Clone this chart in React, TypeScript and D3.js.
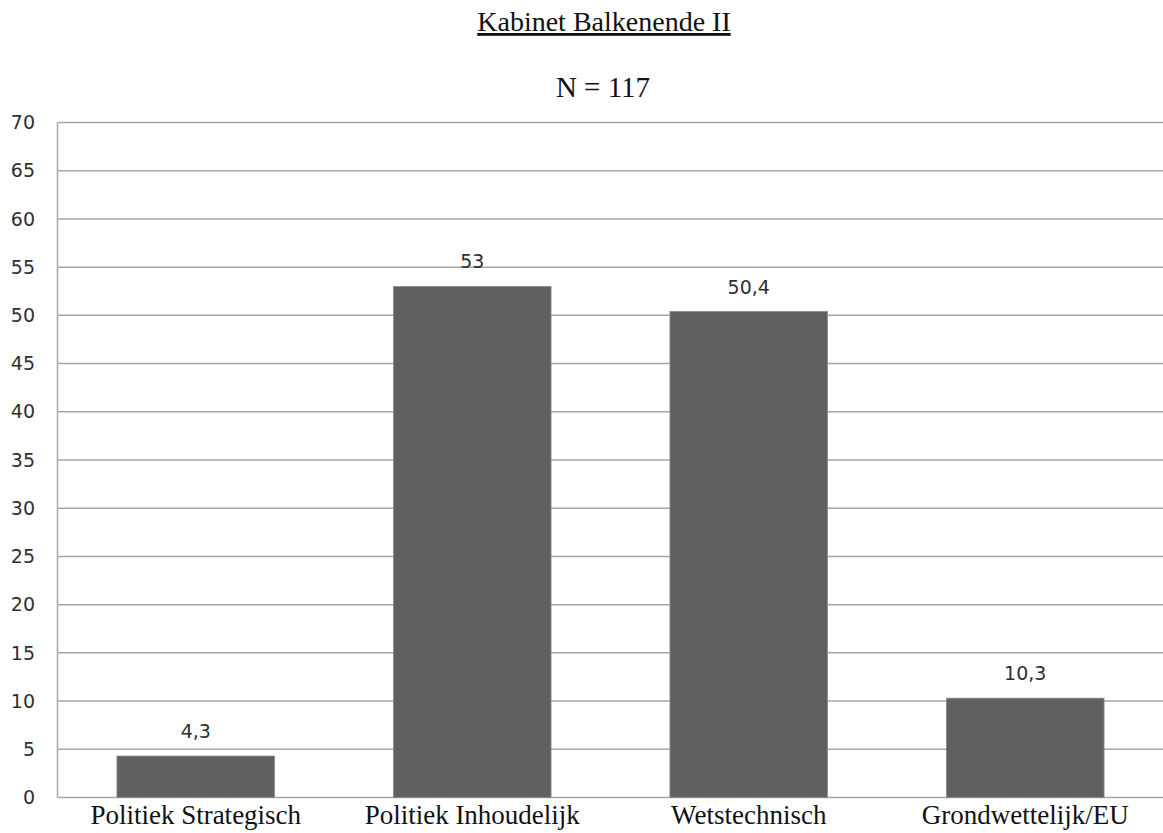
import React from "react";
import * as d3 from "d3";

const categories = ["Politiek Strategisch", "Politiek Inhoudelijk", "Wetstechnisch", "Grondwettelijk/EU"];
const values = [4.3, 53, 50.4, 10.3];
const valueLabels = ["4,3", "53", "50,4", "10,3"];
const yTicks = [0, 5, 10, 15, 20, 25, 30, 35, 40, 45, 50, 55, 60, 65, 70];
const title = "Kabinet Balkenende II";
const subtitle = "N = 117";

const W = 1163;
const H = 833;
const left = 57.5;
const right = 1163.5;
const top = 122.5;
const bottom = 797.5;

export default function App() {
  const x = d3.scaleBand<string>().domain(categories).range([left, right]).paddingInner(0.43).paddingOuter(0.215);
  const y = d3.scaleLinear().domain([0, 70]).range([bottom, top]);
  const serif = "'Liberation Serif', 'Times New Roman', serif";
  const sans = "'DejaVu Sans', Verdana, sans-serif";
  return (
    <svg width={W} height={H} style={{ position: "absolute", left: 0, top: 0, background: "#fff" }}>
      <text x={604} y={31} textAnchor="middle" fontFamily={serif} fontSize={28} fill="#111" textDecoration="underline">
        {title}
      </text>
      <text x={603} y={97} textAnchor="middle" fontFamily={serif} fontSize={29} fill="#111">
        {subtitle}
      </text>
      {yTicks.map((t) => (
        <g key={t}>
          <line x1={left} x2={right} y1={y(t)} y2={y(t)} stroke="#a6a6a6" strokeWidth={1.5} />
          <text x={35} y={y(t)} dy="0.35em" textAnchor="end" fontFamily={sans} fontSize={19} fill="#2f2f2f">
            {t}
          </text>
        </g>
      ))}
      <line x1={left} x2={left} y1={top} y2={bottom} stroke="#a6a6a6" strokeWidth={1.5} />
      {categories.map((c, i) => (
        <g key={c}>
          <rect
            x={x(c)}
            y={y(values[i])}
            width={x.bandwidth()}
            height={y(0) - y(values[i])}
            fill="#606060"
            stroke="#8a8a8a"
            strokeWidth={0.8}
          />
          <text
            x={(x(c) as number) + x.bandwidth() / 2}
            y={y(values[i]) - 18}
            textAnchor="middle"
            fontFamily={sans}
            fontSize={19}
            fill="#2f2f2f"
          >
            {valueLabels[i]}
          </text>
          <text
            x={(x(c) as number) + x.bandwidth() / 2}
            y={824}
            textAnchor="middle"
            fontFamily={serif}
            fontSize={27}
            fill="#111"
          >
            {c}
          </text>
        </g>
      ))}
    </svg>
  );
}
